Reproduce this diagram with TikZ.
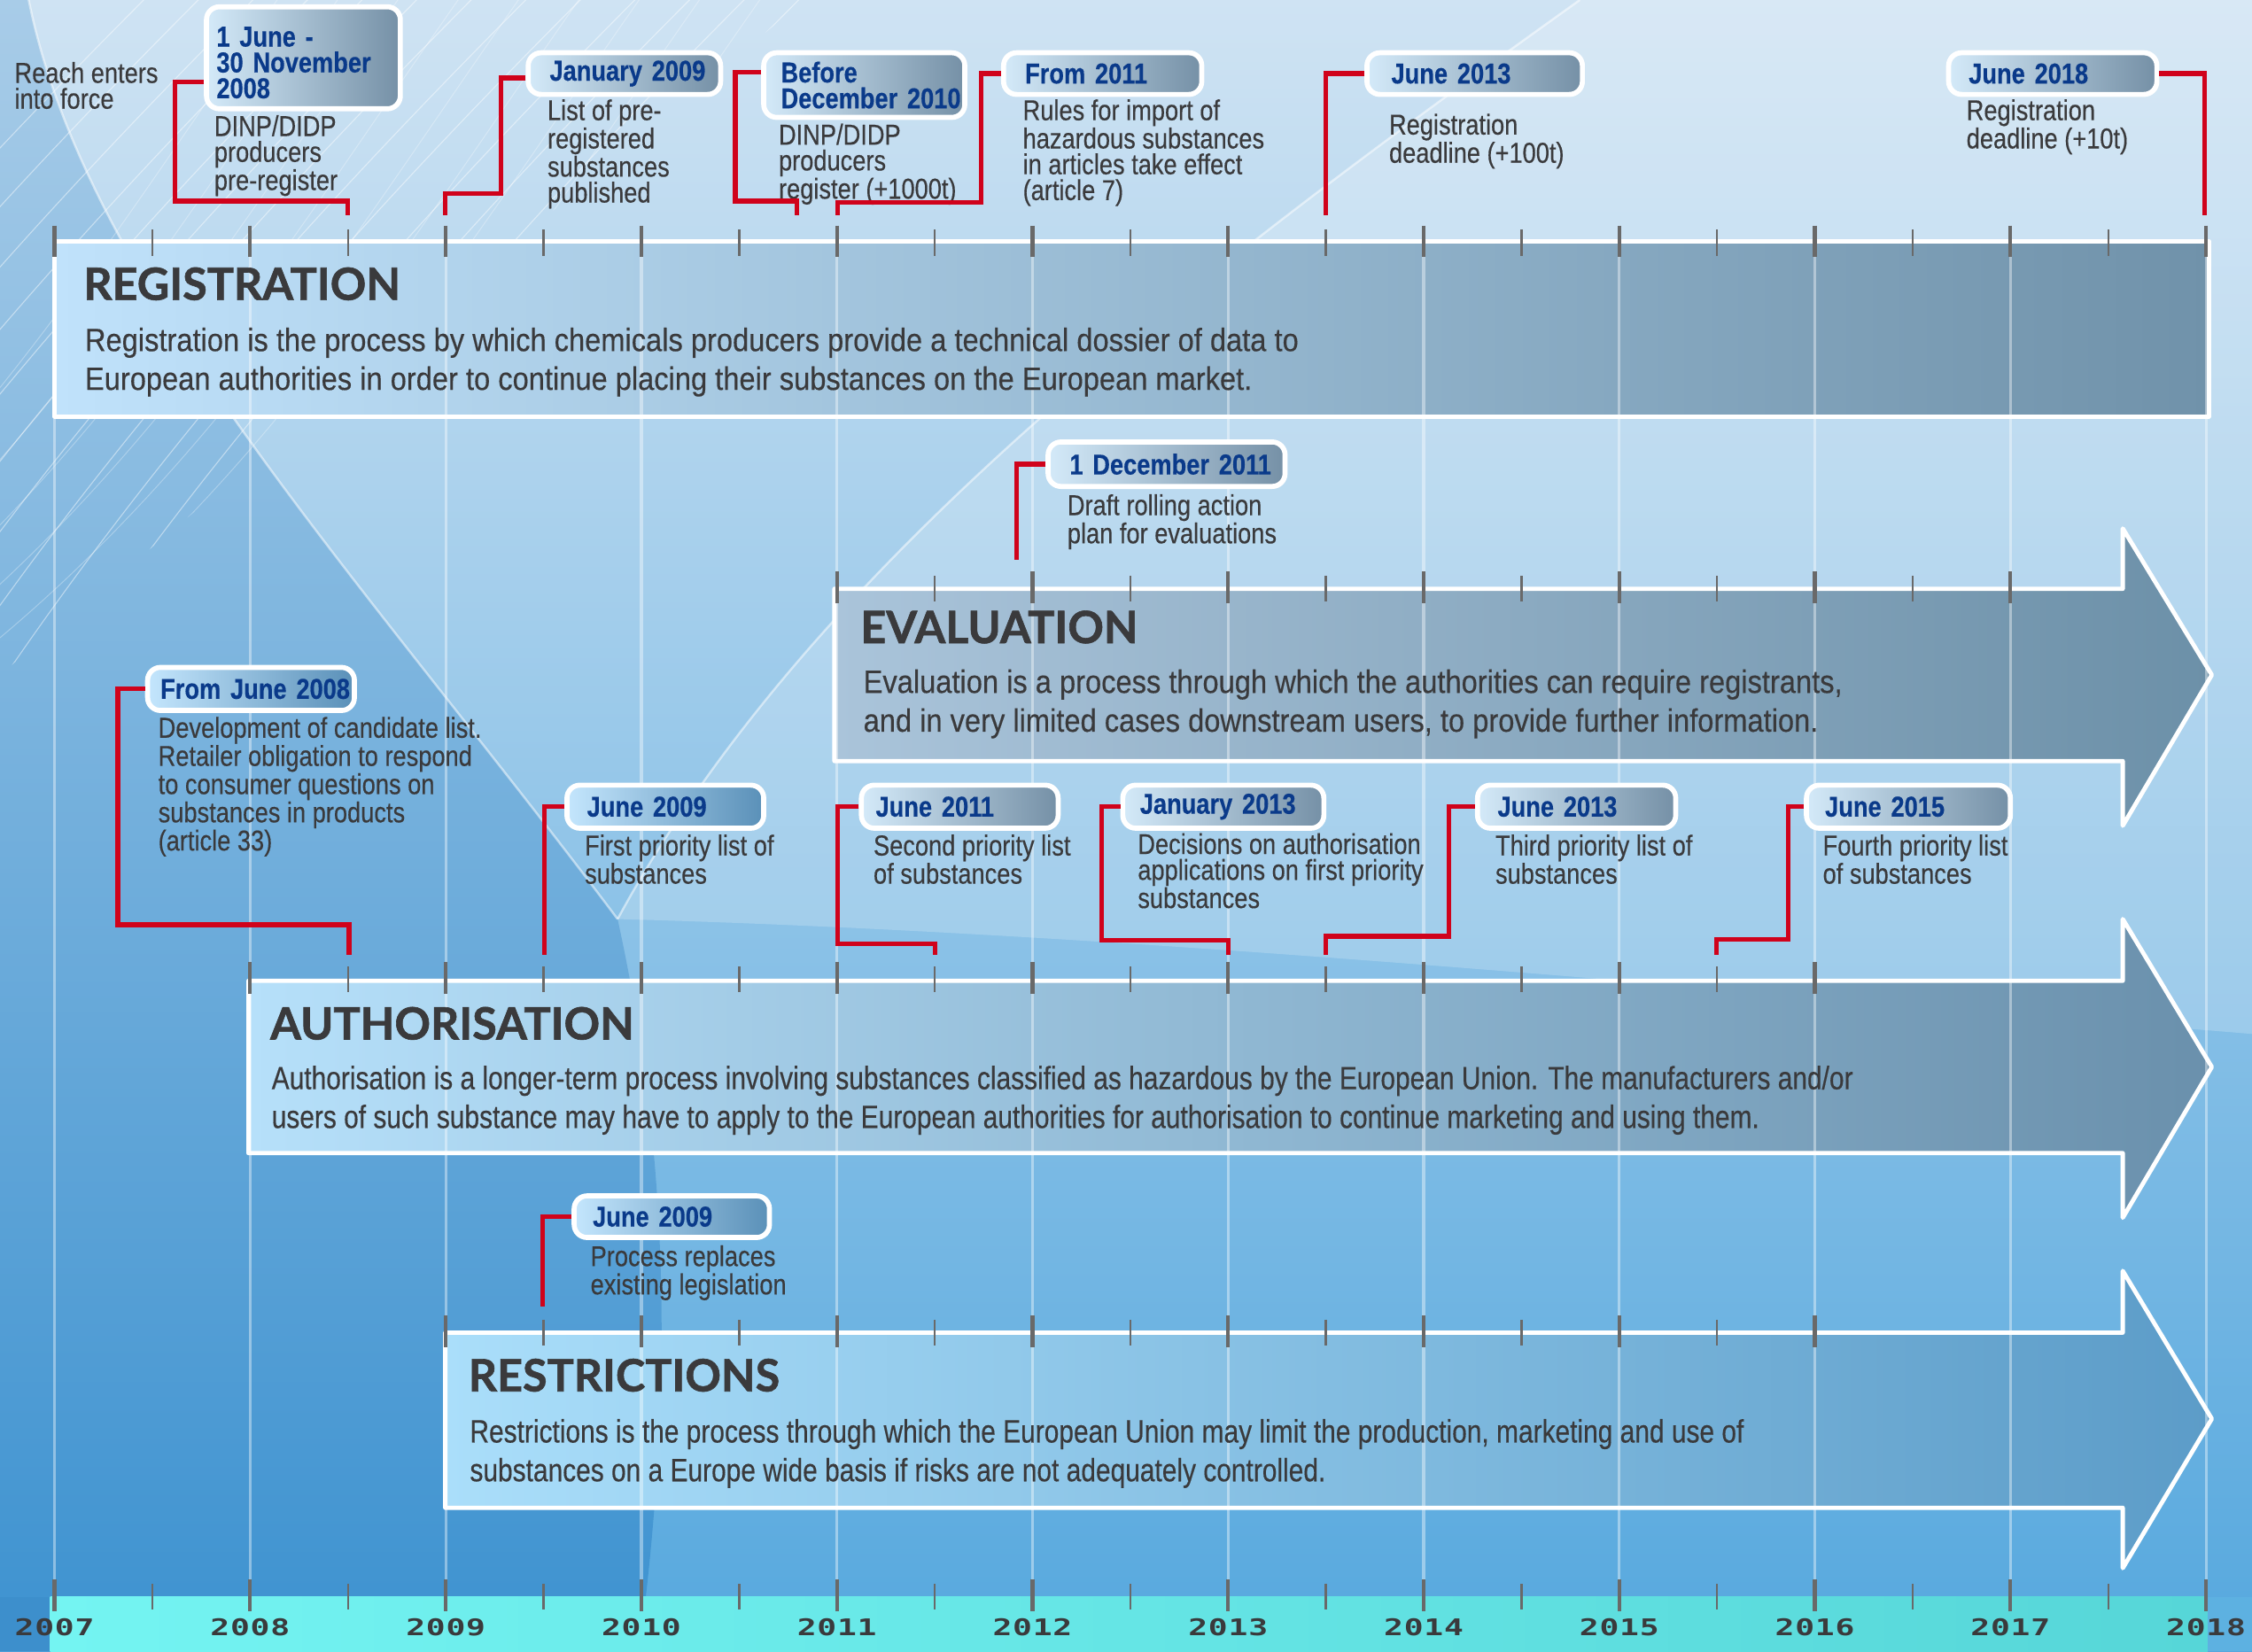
\documentclass[tikz,border=0pt]{standalone}
\usepackage{fontspec}
\setmainfont{Liberation Sans}
\newfontfamily\condf[FakeStretch=0.84,FakeBold=0.3]{Liberation Sans}
\newfontfamily\condw[FakeStretch=0.895,FakeBold=0.3]{Liberation Sans}
\newfontfamily\condn[FakeStretch=0.82,FakeBold=0.3]{Liberation Sans}
\newfontfamily\titlef[FakeBold=1.2]{Lato}
\newfontfamily\yearf[FakeStretch=1.4,LetterSpace=3]{DejaVu Sans Mono}
\definecolor{txt}{HTML}{3A3A3C}
\definecolor{datec}{HTML}{0A3A8A}
\definecolor{redc}{HTML}{D0021B}
\definecolor{tickc}{HTML}{696969}
\definecolor{bgtop}{HTML}{CFE3F3}
\definecolor{bgmid}{HTML}{B4D5EE}
\definecolor{bgbot}{HTML}{56A8DE}
\definecolor{dktop}{HTML}{A8CCE8}
\definecolor{dkbot}{HTML}{3D92D0}
\definecolor{cyanl}{HTML}{74F4F2}
\definecolor{cyanr}{HTML}{56D6D8}
\definecolor{boxl}{HTML}{D4EAF9}
\definecolor{boxr}{HTML}{7590A6}
\definecolor{boxbl}{HTML}{C4E6FD}
\definecolor{boxbr}{HTML}{5A90B8}
\definecolor{cornl}{HTML}{3D8FCC}
\definecolor{cornr}{HTML}{5DB1E1}
\definecolor{regl}{HTML}{C0E2FB}
\definecolor{regr}{HTML}{7092AA}
\definecolor{evl}{HTML}{AAC4DA}
\definecolor{evr}{HTML}{6C90A8}
\definecolor{aul}{HTML}{B6E0FA}
\definecolor{aur}{HTML}{6A90AC}
\definecolor{rel}{HTML}{AADEFA}
\definecolor{rer}{HTML}{5C9CC8}
\newcommand\mydesc{\condf\fontsize{20}{18}\selectfont}
\newcommand\mydate{\condf\bfseries\fontsize{20}{18}\selectfont}
\newcommand\mybodyw{\condw\fontsize{22.5}{27}\selectfont}
\newcommand\mybodyn{\condn\fontsize{22.5}{27}\selectfont}
\newcommand\mytitle{\titlef\bfseries\fontsize{31}{31}\selectfont}
\newcommand\myyear{\yearf\bfseries\fontsize{16}{16}\selectfont}
\newcommand\mytickrow[3]{%
  \foreach \i in {#2,...,#3}{%
    \pgfmathsetmacro\xx{38+\i*68.09}%
    \ifodd\i \draw[minortick] (\xx,#1+3) -- (\xx,#1+21);%
    \else \draw[majortick] (\xx,#1) -- (\xx,#1+22);\fi}}
\begin{document}
\begin{tikzpicture}[x=1pt,y=-1pt,
  datebox/.style={draw=white, line width=3.5pt, rounded corners=9pt, anchor=north west,
    inner ysep=2pt, align=left, font=\mydate, text=datec, left color=boxl, right color=boxr},
  blubox/.style={left color=boxbl, right color=boxbr},
  desc/.style={anchor=north west, inner sep=0pt, align=left, font=\mydesc, text=txt},
  bartitle/.style={anchor=north west, inner sep=0pt, font=\mytitle, text=txt},
  barbody/.style={anchor=north west, inner sep=0pt, align=left, text=txt},
  redline/.style={draw=redc, line width=3.2pt, line join=miter},
  majortick/.style={draw=tickc, line width=2.6pt},
  minortick/.style={draw=tickc, line width=1.5pt},
  yearline/.style={draw=white, line width=2pt, opacity=0.4},
  barshape/.style={draw=white, line width=3pt, line join=round}
]
\useasboundingbox (0,0) rectangle (1568,1150);
% ---------- background ----------
\shade[top color=bgtop, middle color=bgmid, bottom color=bgbot] (0,0) rectangle (1568,1150);
\shade[top color=dktop, bottom color=dkbot]
  (0,0) -- (20,0) .. controls (60,200) and (250,400) .. (430,640)
  .. controls (465,800) and (470,960) .. (445,1150) -- (0,1150) -- cycle;
\fill[white, opacity=0.2]
  (1100,0) .. controls (820,200) and (560,400) .. (430,640)
  .. controls (800,650) and (1200,690) .. (1568,720) -- (1568,0) -- cycle;
\draw[white, opacity=0.5, line width=1.5pt]
  (1100,0) .. controls (820,200) and (560,400) .. (430,640);
\draw[white, opacity=0.5, line width=1.5pt]
  (20,0) .. controls (60,200) and (250,400) .. (430,640);
\begin{scope}
  \clip (0,0) -- (560,0) -- (0,470) -- cycle;
  \foreach \k in {0,...,22}{
    \draw[white, opacity=0.45, line width=0.7pt]
      (-300+\k*38,470) .. controls (-170+\k*38,280) and (-20+\k*38,120) .. (110+\k*38,-10);
    \draw[white, opacity=0.3, line width=0.6pt]
      (-200+\k*42,470) .. controls (-20+\k*42,330) and (80+\k*42,160) .. (200+\k*42,-10);
  }
\end{scope}
\fill[cornl] (0,1112) rectangle (35,1150);
\fill[cornr] (1537,1112) rectangle (1568,1150);
\shade[left color=cyanl, right color=cyanr] (35,1112) rectangle (1537,1150);
% ---------- bars ----------
\path[barshape, left color=regl, right color=regr]
  (38,168) rectangle (1538,290);
\path[barshape, left color=evl, right color=evr]
  (581,410) -- (1478,410) -- (1478,368) -- (1540,470) -- (1478,575) -- (1478,530) -- (581,530) -- cycle;
\path[barshape, left color=aul, right color=aur]
  (173,683) -- (1478,683) -- (1478,640) -- (1540,743) -- (1478,848) -- (1478,803) -- (173,803) -- cycle;
\path[barshape, left color=rel, right color=rer]
  (310,928) -- (1478,928) -- (1478,885) -- (1540,988) -- (1478,1092) -- (1478,1050) -- (310,1050) -- cycle;
% ---------- year lines ----------
\foreach \k in {0,...,11}{
  \draw[yearline] (38+\k*136.18,160) -- (38+\k*136.18,1112);
}
% ---------- ticks ----------
\mytickrow{157}{0}{22}
\mytickrow{398}{8}{20}
\mytickrow{670}{2}{18}
\mytickrow{916}{4}{18}
\mytickrow{1100}{0}{22}
% ---------- year labels ----------
\foreach \k in {0,...,11}{
  \pgfmathtruncatemacro\yr{2007+\k}
  \node[font=\myyear, text=txt, inner sep=0pt] (y\yr) at (38+\k*136.18,1133) {\yr};
}
% ---------- bar texts ----------
\node[bartitle] (regT) at (58,186) {REGISTRATION};
\node[barbody, font=\mybodyw] (regB) at (59,228) {Registration is the process by which chemicals producers provide a technical dossier of data to\\European authorities in order to continue placing their substances on the European market.};
\node[bartitle] (evT) at (599,425) {EVALUATION};
\node[barbody, font=\mybodyw] (evB) at (601,466) {Evaluation is a process through which the authorities can require registrants,\\and in very limited cases downstream users, to provide further information.};
\node[bartitle] (auT) at (188,701) {AUTHORISATION};
\node[barbody, font=\mybodyn] (auB) at (189,742) {Authorisation is a longer-term process involving substances classified as hazardous by the European Union. The manufacturers and/or\\users of such substance may have to apply to the European authorities for authorisation to continue marketing and using them.};
\node[bartitle] (reT) at (326,946) {RESTRICTIONS};
\node[barbody, font=\mybodyn] (reB) at (327,988) {Restrictions is the process through which the European Union may limit the production, marketing and use of\\substances on a Europe wide basis if risks are not adequately controlled.};
% ---------- registration callouts ----------
\node[desc] (reach) at (10,43) {Reach enters\\into force};
\node[datebox, inner xsep=7pt, text width=121pt, minimum height=71pt] (d1) at (142,3) {\rule{0pt}{20.5pt}\mbox{1 June -}\\\mbox{30 November}\\\mbox{2008}};
\node[desc] (dd1) at (149,80) {DINP/DIDP\\producers\\pre-register};
\node[datebox, inner xsep=15pt, text width=104pt, minimum height=29pt] (d2) at (366,35) {\mbox{January 2009}};
\node[desc] (dd2) at (381,69) {List of pre-\\registered\\substances\\published};
\node[datebox, inner xsep=12pt, text width=116pt, minimum height=45pt] (d3) at (530,35) {\mbox{Before}\\\mbox{December 2010}};
\node[desc] (dd3) at (542,86) {DINP/DIDP\\producers\\register (+1000t)};
\node[datebox, inner xsep=15pt, text width=108pt, minimum height=29pt] (d4) at (697,35) {\mbox{From 2011}};
\node[desc] (dd4) at (712,69) {Rules for import of\\hazardous substances\\in articles take effect\\(article 7)};
\node[datebox, inner xsep=17pt, text width=116pt, minimum height=29pt] (d5) at (950,35) {\mbox{June 2013}};
\node[desc] (dd5) at (967,79) {Registration\\deadline (+100t)};
\node[datebox, inner xsep=14pt, text width=117pt, minimum height=29pt] (d6) at (1355,35) {\mbox{June 2018}};
\node[desc] (dd6) at (1369,69) {Registration\\deadline (+10t)};
% ---------- evaluation callout ----------
\node[datebox, inner xsep=15pt, text width=135pt, minimum height=31pt] (e1) at (728,306) {\mbox{1 December 2011}};
\node[desc] (ed1) at (743,344) {Draft rolling action\\plan for evaluations};
% ---------- authorisation callouts ----------
\node[datebox, blubox, inner xsep=9pt, text width=126pt, minimum height=30pt] (a1) at (101,463) {\mbox{From June 2008}};
\node[desc] (ad1) at (110,499) {Development of candidate list.\\Retailer obligation to respond\\to consumer questions on\\substances in products\\(article 33)};
\node[datebox, blubox, inner xsep=14pt, text width=109pt, minimum height=30pt] (a2) at (393,545) {\mbox{June 2009}};
\node[desc] (ad2) at (407,581) {First priority list of\\substances};
\node[datebox, inner xsep=10pt, text width=117pt, minimum height=30pt] (a3) at (598,545) {\mbox{June 2011}};
\node[desc] (ad3) at (608,581) {Second priority list\\of substances};
\node[datebox, inner xsep=12pt, text width=116pt, minimum height=30pt] (a4) at (780,545) {\mbox{January 2013}};
\node[desc] (ad4) at (792,580) {Decisions on authorisation\\applications on first priority\\substances};
\node[datebox, inner xsep=14pt, text width=110pt, minimum height=30pt] (a5) at (1027,545) {\mbox{June 2013}};
\node[desc] (ad5) at (1041,581) {Third priority list of\\substances};
\node[datebox, inner xsep=13pt, text width=116pt, minimum height=30pt] (a6) at (1256,545) {\mbox{June 2015}};
\node[desc] (ad6) at (1269,581) {Fourth priority list\\of substances};
% ---------- restrictions callout ----------
\node[datebox, blubox, inner xsep=13pt, text width=110pt, minimum height=29pt] (r1) at (398,831) {\mbox{June 2009}};
\node[desc] (rd1) at (411,867) {Process replaces\\existing legislation};
% ---------- connector end points ----------
\coordinate (k1) at (242,150);
\coordinate (k2) at (310,150);
\coordinate (k3) at (555,150);
\coordinate (k4) at (583,150);
\coordinate (k5) at (923,150);
\coordinate (k6) at (1535,150);
\coordinate (k7) at (708,390);
\coordinate (k8) at (243,665);
\coordinate (k9) at (379,665);
\coordinate (k10) at (651,665);
\coordinate (k11) at (855,665);
\coordinate (k12) at (923,665);
\coordinate (k13) at (1195,665);
\coordinate (k14) at (378,910);
% ---------- red connectors ----------
\draw[redline] ([yshift=-17pt]d1.west) -| (122,140) -| (k1);
\draw[redline] ([yshift=-3pt]d2.west) -| (349,135) -| (k2);
\draw[redline] ([yshift=9pt]d3.west) -| (512,140) -| (k3);
\draw[redline] (d4.west) -| (683,141) -| (k4);
\draw[redline] (d5.west) -| (k5);
\draw[redline] (d6.east) -| (k6);
\draw[redline] (e1.west) -| (k7);
\draw[redline] (a1.west) -| (82,644) -| (k8);
\draw[redline] (a2.west) -| (k9);
\draw[redline] (a3.west) -| (583,657) -| (k10);
\draw[redline] (a4.west) -| (767,655) -| (k11);
\draw[redline] (a5.west) -| (1009,652) -| (k12);
\draw[redline] (a6.west) -| (1245,654) -| (k13);
\draw[redline] (r1.west) -| (k14);
\end{tikzpicture}
\end{document}
